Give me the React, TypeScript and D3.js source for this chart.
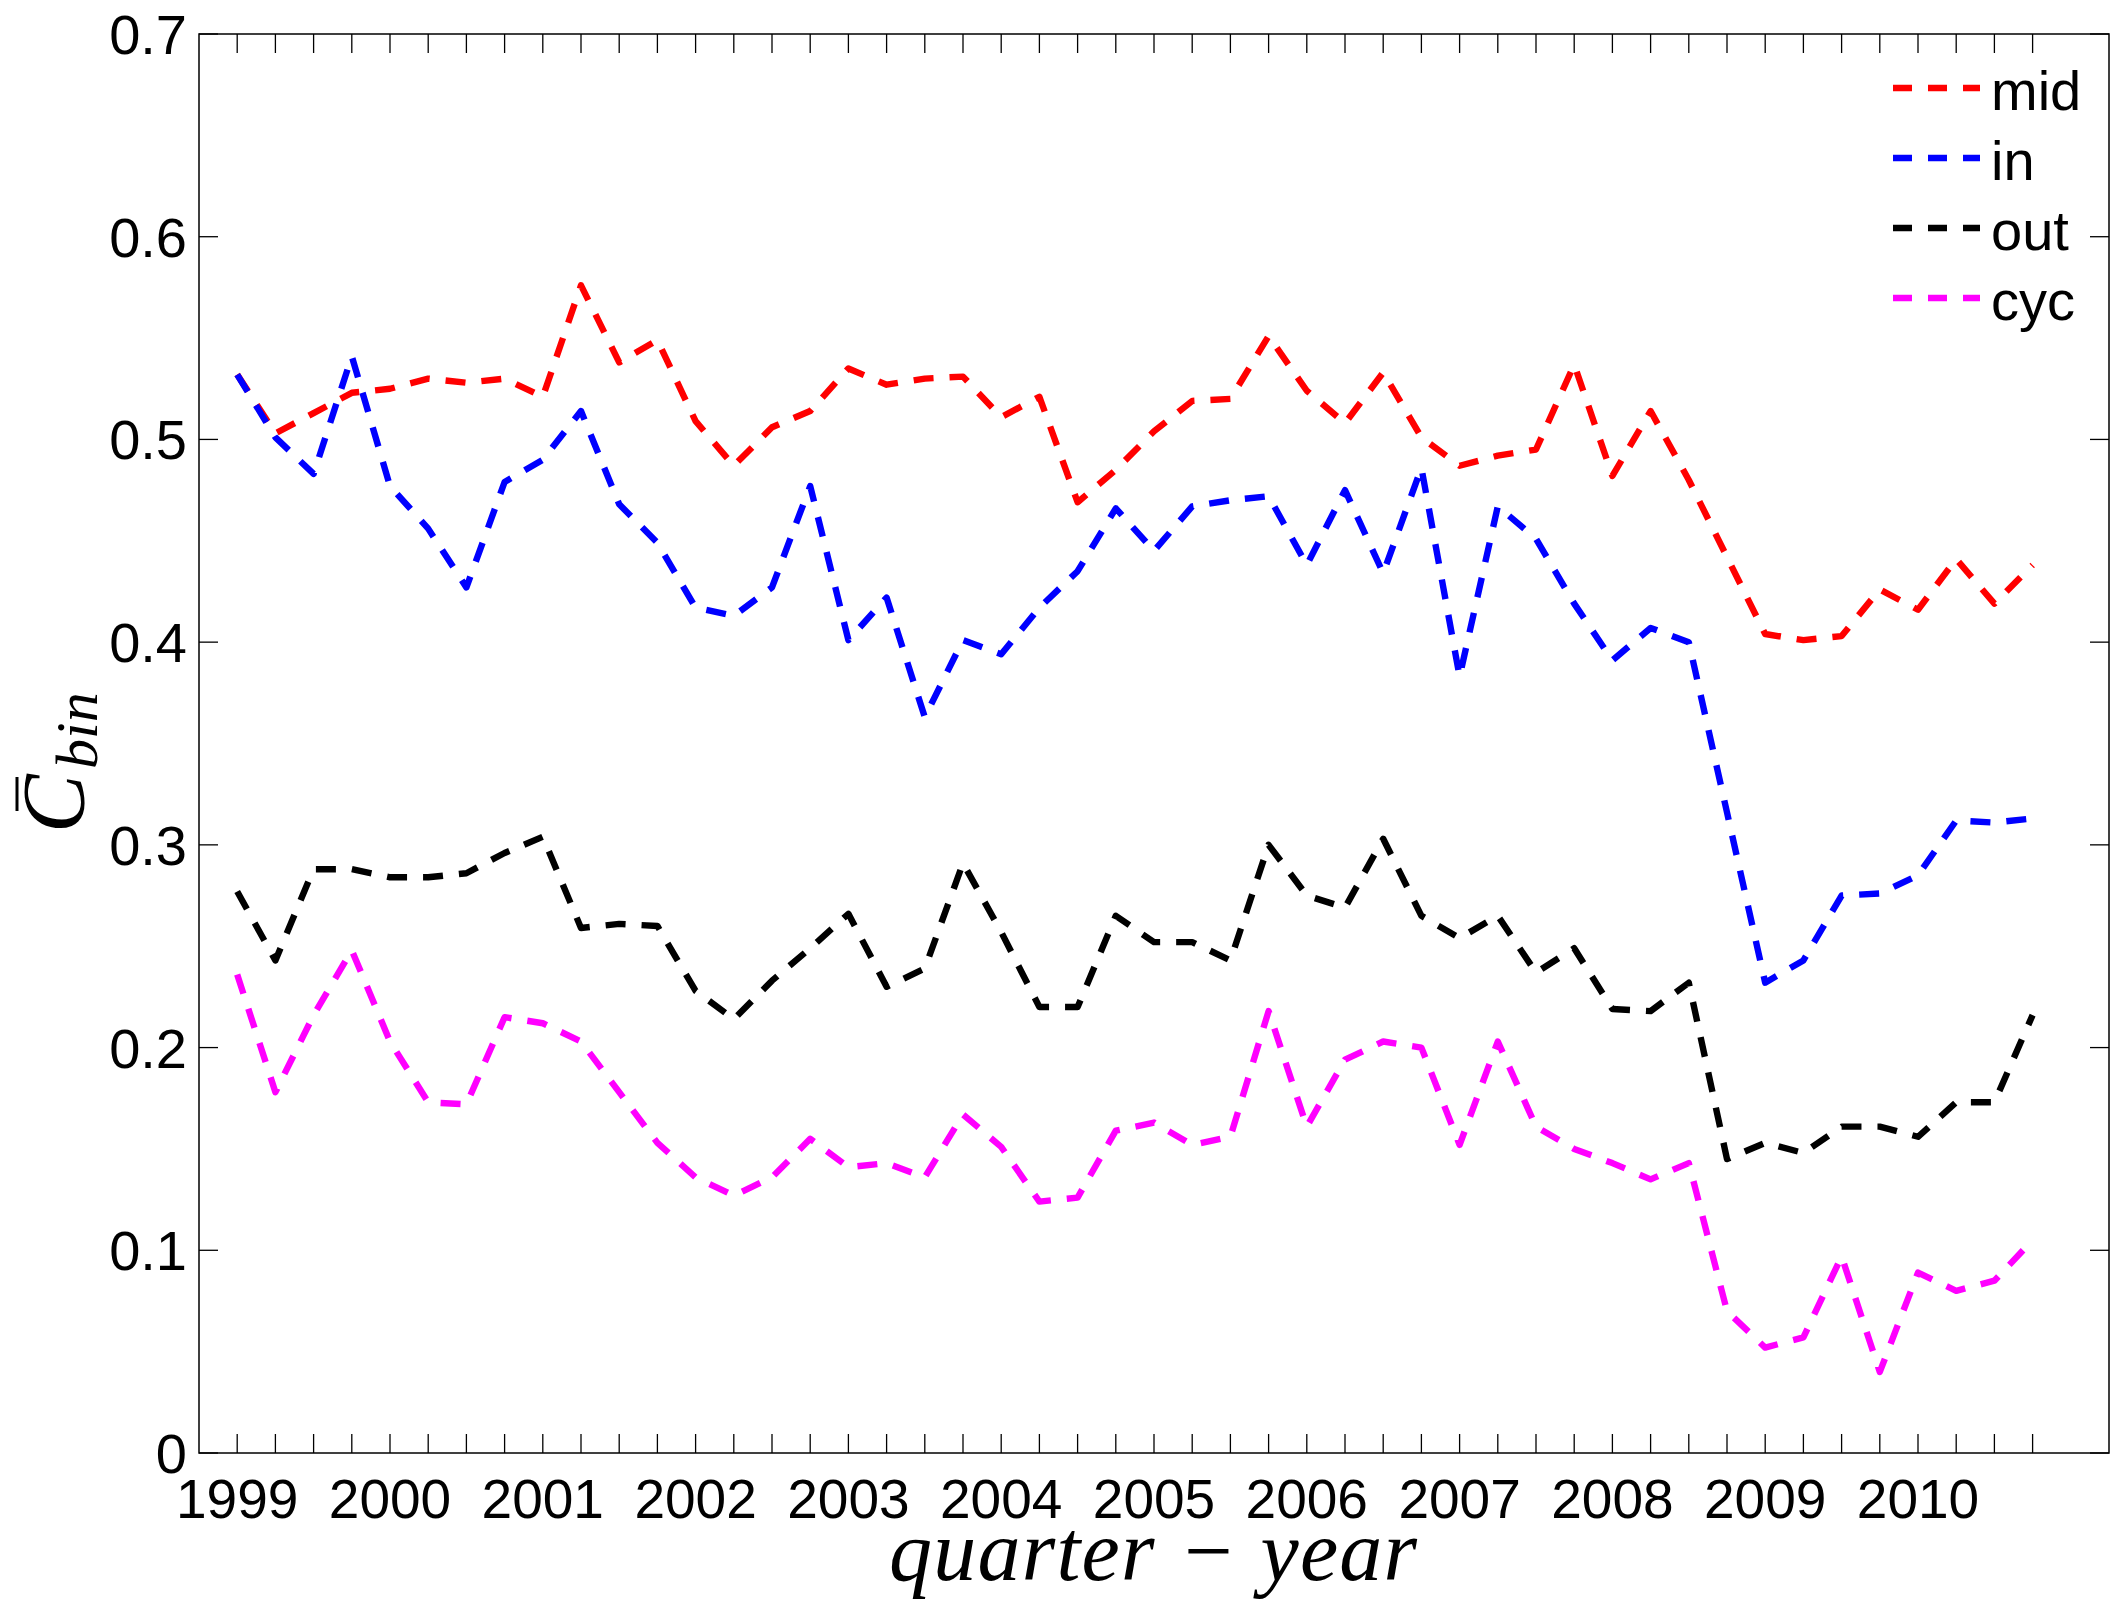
import React from "react";
import * as d3 from "d3";

const years = ["1999","2000","2001","2002","2003","2004","2005","2006","2007","2008","2009","2010"];
const quarters = years.flatMap((yr) => ["Q1","Q2","Q3","Q4"].map((q) => `${yr}${q}`));

const mid = [0.532,0.503,0.513,0.523,0.525,0.530,0.528,0.530,0.521,0.576,0.538,0.549,0.509,0.487,0.506,0.514,0.535,0.527,0.530,0.531,0.511,0.521,0.469,0.485,0.504,0.519,0.520,0.551,0.524,0.508,0.533,0.501,0.487,0.492,0.495,0.537,0.482,0.514,0.480,0.442,0.404,0.401,0.403,0.426,0.416,0.441,0.419,0.438];
const inSeries = [0.532,0.501,0.483,0.541,0.477,0.456,0.427,0.479,0.490,0.514,0.468,0.449,0.417,0.413,0.427,0.477,0.401,0.422,0.363,0.401,0.394,0.417,0.435,0.466,0.445,0.467,0.470,0.472,0.438,0.475,0.434,0.486,0.383,0.467,0.451,0.419,0.391,0.407,0.400,0.316,0.232,0.243,0.275,0.276,0.285,0.312,0.311,0.313];
const outSeries = [0.277,0.243,0.288,0.288,0.284,0.284,0.286,0.296,0.304,0.259,0.261,0.260,0.228,0.214,0.233,0.249,0.266,0.230,0.239,0.291,0.257,0.220,0.220,0.265,0.252,0.252,0.243,0.300,0.275,0.269,0.303,0.265,0.254,0.265,0.237,0.249,0.219,0.218,0.232,0.145,0.153,0.148,0.161,0.161,0.156,0.173,0.173,0.216];
const cyc = [0.236,0.178,0.216,0.248,0.203,0.173,0.172,0.215,0.212,0.203,0.178,0.153,0.136,0.127,0.136,0.155,0.141,0.143,0.136,0.167,0.151,0.124,0.126,0.159,0.163,0.152,0.156,0.218,0.161,0.194,0.203,0.200,0.152,0.203,0.161,0.150,0.143,0.135,0.143,0.070,0.052,0.057,0.097,0.040,0.089,0.080,0.085,0.105];

const yTicks = [0, 0.1, 0.2, 0.3, 0.4, 0.5, 0.6, 0.7];
const yTickLabels = ["0", "0.1", "0.2", "0.3", "0.4", "0.5", "0.6", "0.7"];

const seriesNames = ["mid", "in", "out", "cyc"];
const seriesColors = ["#ff0000", "#0000ff", "#000000", "#ff00ff"];
const seriesData = [mid, inSeries, outSeries, cyc];

const W = 2124, H = 1608;
const L = 199, R = 2109, T = 34, B = 1453;

export default function App() {
  const x = d3.scaleLinear().domain([0, quarters.length + 2]).range([L, R]);
  const y = d3.scaleLinear().domain([0, 0.7]).range([B, T]);
  const line = d3.line<number>().x((_, i) => x(i + 1)).y((d) => y(d));
  const tickLen = 19;
  const font = "'Liberation Sans', Arial, Helvetica, sans-serif";
  const serif = "'Liberation Serif', 'Times New Roman', serif";
  const legendX0 = 1893, legendX1 = 1980, legendY0 = 88, legendDy = 70;
  const lw = 6.4;

  return (
    <svg width={W} height={H} style={{ position: "absolute", left: 0, top: 0, background: "#fff" }}>
      <rect x={0} y={0} width={W} height={H} fill="#fff" />
      {/* ticks */}
      <g stroke="#000" strokeWidth={1.3}>
        {quarters.map((q, i) => (
          <g key={q}>
            <line x1={x(i + 1)} x2={x(i + 1)} y1={B} y2={B - tickLen} />
            <line x1={x(i + 1)} x2={x(i + 1)} y1={T} y2={T + tickLen} />
          </g>
        ))}
        {yTicks.map((t) => (
          <g key={t}>
            <line x1={L} x2={L + tickLen} y1={y(t)} y2={y(t)} />
            <line x1={R} x2={R - tickLen} y1={y(t)} y2={y(t)} />
          </g>
        ))}
      </g>
      {/* series */}
      {seriesData.map((s, k) => (
        <path key={seriesNames[k]} d={line(s) || ""} fill="none" stroke={seriesColors[k]}
          strokeWidth={lw} strokeDasharray="20 16" strokeLinejoin="round" />
      ))}
      {/* box */}
      <rect x={L} y={T} width={R - L} height={B - T} fill="none" stroke="#000" strokeWidth={1.5} />
      {/* y tick labels */}
      {yTicks.map((t, i) => (
        <text key={t} x={187} y={y(t) + 20} textAnchor="end" fontFamily={font} fontSize={56}>{yTickLabels[i]}</text>
      ))}
      {/* x tick labels */}
      {years.map((yr, i) => (
        <text key={yr} x={x(i * 4 + 1)} y={1518} textAnchor="middle" fontFamily={font} fontSize={55}>{yr}</text>
      ))}
      {/* x axis title */}
      <text x={1153} y={1580} textAnchor="middle" fontFamily={serif} fontStyle="italic" fontSize={86}
        textLength={528} lengthAdjust="spacing">quarter − year</text>
      {/* y axis title */}
      <g transform="translate(83, 763) rotate(-90)">
        <text x={-70} y={0} fontFamily={serif} fontStyle="italic" fontSize={88}>C</text>
        <text x={-6} y={14} fontFamily={serif} fontStyle="italic" fontSize={60}>bin</text>
        <line x1={-48} x2={-14} y1={-66} y2={-66} stroke="#000" strokeWidth={3} />
      </g>
      {/* legend */}
      {seriesNames.map((n, k) => (
        <g key={n}>
          <line x1={legendX0} x2={legendX1} y1={legendY0 + k * legendDy} y2={legendY0 + k * legendDy}
            stroke={seriesColors[k]} strokeWidth={lw} strokeDasharray="19 16" />
          <text x={1991} y={legendY0 + k * legendDy + 22} fontFamily={font} fontSize={56}>{n}</text>
        </g>
      ))}
    </svg>
  );
}
